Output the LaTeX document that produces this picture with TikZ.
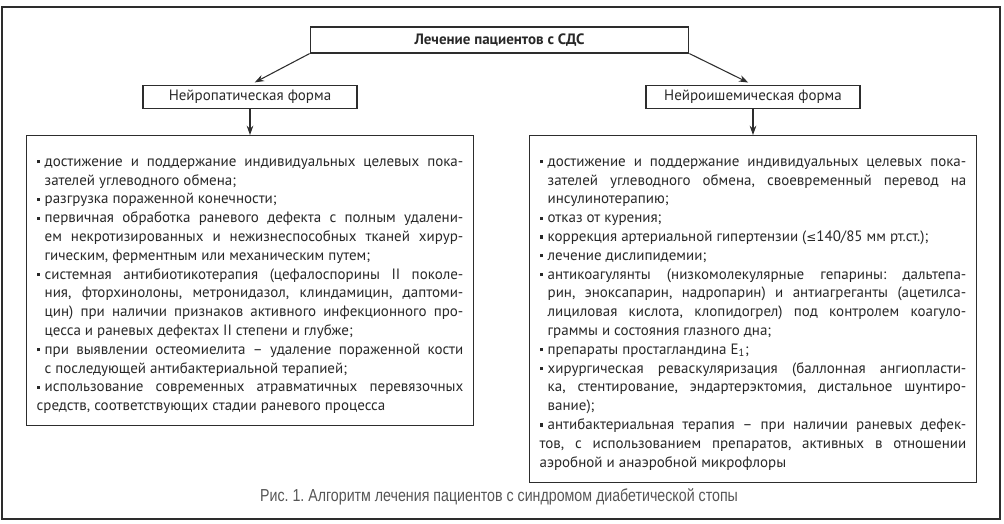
\documentclass[tikz,border=0pt]{standalone}
\usepackage{fontspec}
\setmainfont{PT Sans}
\newfontfamily\capfont[FakeStretch=0.82]{Liberation Sans}
\newfontfamily\symfont{DejaVu Sans}
\usetikzlibrary{arrows.meta}
\definecolor{ramka}{RGB}{45,45,45}
\definecolor{tekst}{RGB}{40,40,40}
\definecolor{podpis}{RGB}{85,85,85}
\newcommand\bul{\par\noindent\hangindent=6pt\hangafter=1\strut\makebox[6pt][l]{\raisebox{0.2em}{\rule{2.4pt}{2.4pt}}}}
\frenchspacing

\begin{document}
\begin{tikzpicture}[x=0.75pt,y=-0.75pt,
  ramochka/.style={draw=ramka,line width=0.9pt,text=tekst,font=\fontsize{11.25pt}{14.1pt}\selectfont},
  forma/.style={ramochka,minimum width=160.5pt,minimum height=17.25pt,inner sep=0pt},
  spisok/.style={ramochka,anchor=north,text width=320pt,inner xsep=7.5pt,inner ysep=9pt,align=justify,
    execute at begin node={\tolerance=9999\hbadness=10000\hyphenpenalty=10000}},
  strelka/.style={-{Stealth[length=7pt,width=5pt]},draw=ramka,line width=0.8pt}]
\useasboundingbox (0,0) rectangle (1004,524);
\draw[ramka,line width=1.1pt] (2,7) rectangle (1000,519);

\node[ramochka,minimum width=284pt,minimum height=19.5pt] (lechenie) at (499.5,40) {\bfseries Лечение пациентов с СДС};
\node[forma] (neiropat) at (250,97) {Нейропатическая форма};
\node[forma] (neiroish) at (753,97) {Нейроишемическая форма};

\node[spisok] (neiropatbox) at (250,135)
{
\bul достижение и поддержание индивидуальных целевых пока-\linebreak зателей углеводного обмена;
\bul разгрузка пораженной конечности;
\bul первичная обработка раневого дефекта с полным удалени-\linebreak ем некротизированных и нежизнеспособных тканей хирур-\linebreak гическим, ферментным или механическим путем;
\bul системная антибиотикотерапия (цефалоспорины II поколе-\linebreak ния, фторхинолоны, метронидазол, клиндамицин, даптоми-\linebreak цин) при наличии признаков активного инфекционного про-\linebreak цесса и раневых дефектах II степени и глубже;
\bul при выявлении остеомиелита – удаление пораженной кости\linebreak с последующей антибактериальной терапией;
\bul использование современных атравматичных перевязочных\linebreak средств, соответствующих стадии раневого процесса
};

\node[spisok] (neiroishbox) at (753,135)
{
\bul достижение и поддержание индивидуальных целевых пока-\linebreak зателей углеводного обмена, своевременный перевод на\linebreak инсулинотерапию;
\bul отказ от курения;
\bul коррекция артериальной гипертензии ({\symfont\small ≤}140/85 мм рт.ст.);
\bul лечение дислипидемии;
\bul антикоагулянты (низкомолекулярные гепарины: дальтепа-\linebreak рин, эноксапарин, надропарин) и антиагреганты (ацетилса-\linebreak лициловая кислота, клопидогрел) под контролем коагуло-\linebreak граммы и состояния глазного дна;
\bul препараты простагландина E\textsubscript{1};
\bul хирургическая реваскуляризация (баллонная ангиопласти-\linebreak ка, стентирование, эндартерэктомия, дистальное шунтиро-\linebreak вание);
\bul антибактериальная терапия – при наличии раневых дефек-\linebreak тов, с использованием препаратов, активных в отношении\linebreak аэробной и анаэробной микрофлоры
};

\draw[strelka,shorten >=4pt] (lechenie.south west) -- (neiropat.north);
\draw[strelka,shorten >=4pt] (lechenie.south east) -- (neiroish.north);
\draw[strelka] (neiropat.south) -- (neiropatbox.north);
\draw[strelka] (neiroish.south) -- (neiroishbox.north);

\node[text=podpis,font=\capfont\fontsize{13pt}{15pt}\selectfont] (ris) at (499,497)
{Рис. 1. Алгоритм лечения пациентов с синдромом диабетической стопы};
\end{tikzpicture}
\end{document}
